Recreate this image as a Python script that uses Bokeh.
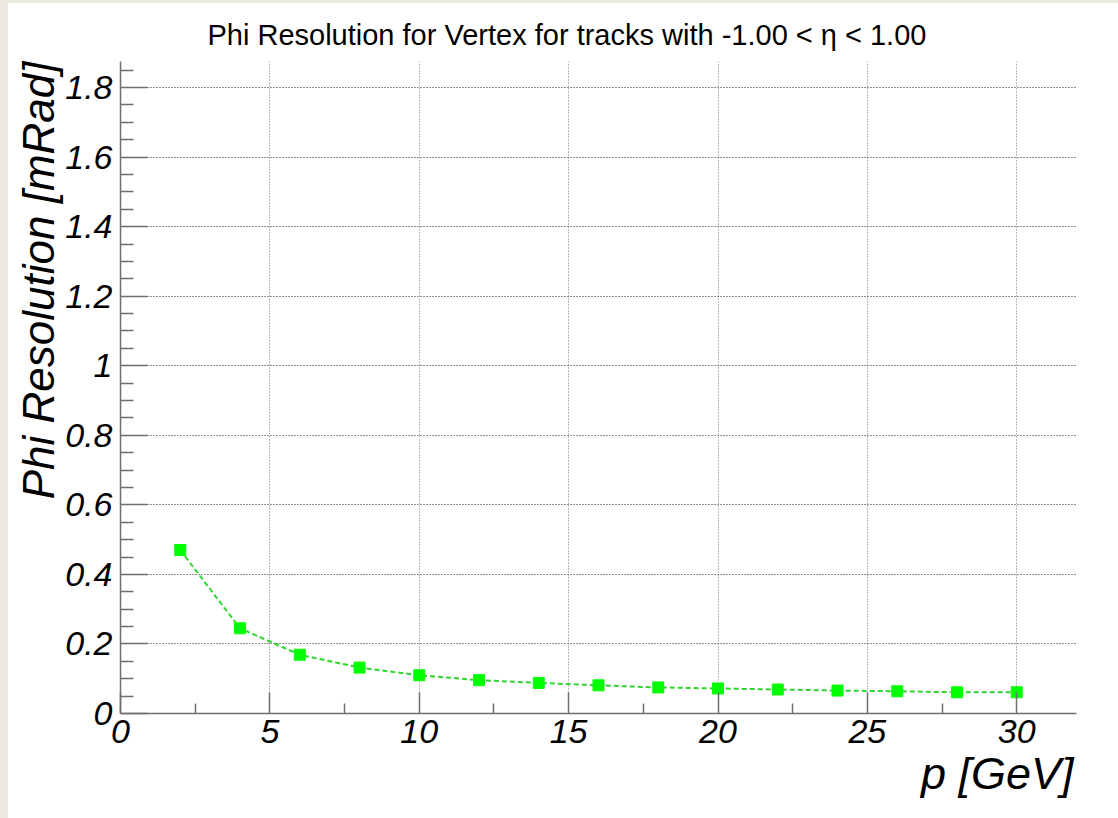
from bokeh.plotting import figure
from bokeh.models import (Range1d, FixedTicker, NumeralTickFormatter, Title, Spacer)
from bokeh.layouts import row, column
from bokeh.embed import file_html
from bokeh.resources import INLINE

# Momentum bins [GeV] and the phi resolution [mRad] measured in each
momentum = [2, 4, 6, 8, 10, 12, 14, 16, 18, 20, 22, 24, 26, 28, 30]
phi_resolution = [0.470, 0.245, 0.169, 0.132, 0.110, 0.096, 0.088, 0.081,
                  0.075, 0.072, 0.069, 0.066, 0.064, 0.061, 0.061]

x_major = [0, 5, 10, 15, 20, 25, 30]
x_minor = [2.5, 7.5, 12.5, 17.5, 22.5, 27.5]
y_major = [0, 0.2, 0.4, 0.6, 0.8, 1.0, 1.2, 1.4, 1.6, 1.8]
y_minor = [round(0.05 * i, 2) for i in range(38) if i % 4 != 0]

title_text = "Phi Resolution for Vertex for tracks with -1.00 < \u03b7 < 1.00"
x_title = "p [GeV]"
y_title = "Phi Resolution [mRad]"

FONT = "Liberation Sans"
AXIS_GREY = "#6e6e6e"

p = figure(width=1110, height=815, output_backend="svg", toolbar_location=None,
           x_range=Range1d(0, 32), y_range=Range1d(0, 1.875),
           min_border_left=112, min_border_right=42,
           min_border_top=58, min_border_bottom=105)
p.outline_line_color = None
p.background_fill_color = "white"
p.border_fill_color = "white"

# axes in the ROOT style: ticks pointing into the frame, italic labels
for ax in (p.xaxis[0], p.yaxis[0]):
    ax.axis_line_color = AXIS_GREY
    ax.axis_line_width = 1.5
    ax.major_tick_line_color = AXIS_GREY
    ax.minor_tick_line_color = AXIS_GREY
    ax.major_tick_line_width = 1.5
    ax.minor_tick_line_width = 1.5
    ax.major_tick_out = 0
    ax.minor_tick_out = 0
    ax.major_label_text_font = FONT
    ax.major_label_text_font_style = "italic"
    ax.major_label_text_font_size = "34px"
    ax.major_label_text_color = "black"
    ax.major_label_standoff = 6

p.xaxis[0].ticker = FixedTicker(ticks=x_major, minor_ticks=x_minor)
p.xaxis[0].formatter = NumeralTickFormatter(format="0")
p.xaxis[0].major_tick_in = 21
p.xaxis[0].minor_tick_in = 10

p.yaxis[0].ticker = FixedTicker(ticks=y_major, minor_ticks=y_minor)
p.yaxis[0].formatter = NumeralTickFormatter(format="0.[0]")
p.yaxis[0].major_tick_in = 27
p.yaxis[0].minor_tick_in = 13
p.yaxis[0].major_label_standoff = 8

# dotted grid
p.xgrid[0].ticker = FixedTicker(ticks=x_major[1:])
p.xgrid[0].grid_line_color = "#777777"
p.xgrid[0].grid_line_dash = "1 2"
p.xgrid[0].grid_line_width = 1
p.ygrid[0].ticker = FixedTicker(ticks=y_major[1:])
p.ygrid[0].grid_line_color = "#222222"
p.ygrid[0].grid_line_dash = "1 2"
p.ygrid[0].grid_line_width = 1

# resolution curve
p.line(momentum, phi_resolution, line_color="#2fd62f", line_width=2,
       line_dash="5 3")
p.scatter(momentum, phi_resolution, marker="square", size=11,
          fill_color="#00ff00", line_color="#00ff00")

# titles
p.add_layout(Title(text=title_text, align="left", offset=87, standoff=21,
                   text_font=FONT, text_font_style="normal",
                   text_font_size="29px", text_color="black"), "above")
p.add_layout(Title(text=x_title, align="right", offset=3, standoff=0,
                   text_font=FONT, text_font_style="italic",
                   text_font_size="45px", text_color="black"), "below")
p.add_layout(Title(text=y_title, align="right", standoff=0,
                   text_font=FONT, text_font_style="italic",
                   text_font_size="44px", text_color="black"), "left")

BEIGE = "#ede9e1"
left_strip = Spacer(width=8, height=818, styles={"background-color": BEIGE})
top_strip = Spacer(width=1110, height=3, styles={"background-color": BEIGE})
layout = row(left_strip, column(top_strip, p, spacing=0), spacing=0)

open("out.html", "w").write(file_html(layout, INLINE))
